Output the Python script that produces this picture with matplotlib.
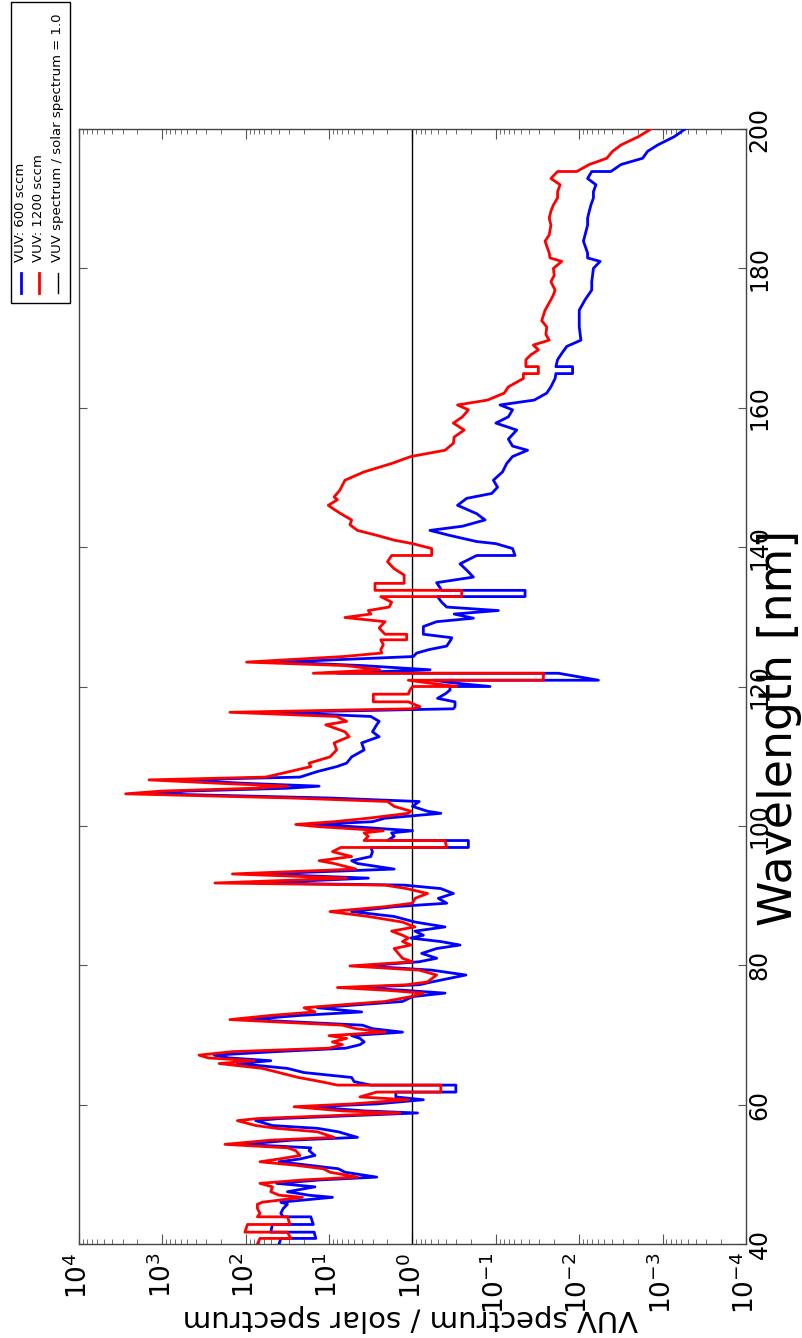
import numpy as np
import matplotlib
matplotlib.use("Agg")
import matplotlib.pyplot as plt
from matplotlib.patches import Rectangle
from matplotlib.lines import Line2D
from matplotlib.ticker import LogLocator, MultipleLocator, NullFormatter, FixedLocator

# ---------------- data (wavelength in nm, log10 of VUV/solar ratio) ----------------
wl_600 = [40.0, 40.8, 40.8, 41.7, 41.7, 42.8, 42.8, 43.9, 43.9, 44.4, 45.1, 45.7, 46.0, 46.7, 47.0, 47.5,
          48.2, 48.7, 49.2, 49.6, 50.3, 50.8, 51.3, 51.8, 52.2, 52.7, 53.4, 53.8, 54.3, 54.9, 55.3, 56.1,
          56.6, 57.0, 57.7, 58.0, 58.8, 59.1, 59.7, 60.1, 60.7, 61.1, 61.8, 61.8, 62.8, 62.8, 63.3, 63.9,
          64.6, 65.2, 65.9, 66.3, 66.7, 67.1, 67.6, 68.1, 68.6, 69.0, 69.5, 69.9, 70.4, 70.9, 71.4, 72.2,
          72.8, 73.3, 73.9, 74.8, 75.5, 76.0, 76.4, 76.8, 77.2, 77.6, 78.6, 79.3, 79.9, 80.5, 81.0, 81.7,
          82.4, 82.9, 83.4, 83.9, 84.3, 84.9, 85.5, 86.2, 87.0, 87.7, 88.4, 88.9, 89.6, 90.3, 91.0, 91.5,
          91.8, 92.5, 93.1, 93.8, 94.6, 95.0, 95.6, 96.3, 96.9, 96.9, 97.9, 97.9, 98.5, 99.0, 99.3, 99.9,
          100.2, 100.6, 101.1, 101.8, 102.1, 102.8, 103.5, 104.0, 104.6, 105.0, 105.4, 105.7, 106.1, 106.6,
          107.0, 107.8, 108.5, 109.0, 109.9, 110.9, 111.9, 112.8, 113.5, 114.5, 115.0, 115.7, 116.3, 116.8,
          117.1, 117.8, 118.3, 119.0, 119.5, 120.0, 120.0, 120.5, 120.9, 120.9, 121.9, 121.9, 122.4, 123.0,
          123.5, 124.3, 124.8, 125.3, 125.8, 126.7, 127.0, 127.5, 128.6, 129.3, 129.8, 130.4, 130.9, 131.4,
          132.1, 132.9, 132.9, 133.8, 133.8, 134.9, 135.7, 136.7, 137.6, 138.8, 138.8, 139.8, 140.5, 140.8,
          141.7, 142.4, 143.0, 143.9, 144.8, 146.0, 147.0, 147.7, 148.6, 149.6, 150.8, 152.0, 153.0, 153.9,
          154.5, 155.5, 156.8, 157.8, 158.7, 159.7, 160.4, 161.1, 162.1, 163.0, 164.2, 164.9, 164.9, 165.9,
          165.9, 166.9, 167.8, 168.8, 169.7, 171.6, 174.0, 175.5, 176.9, 178.1, 180.0, 181.0, 181.5, 182.2,
          183.9, 184.8, 186.2, 187.2, 188.2, 189.1, 190.1, 191.0, 192.0, 192.9, 193.9, 193.9, 194.9, 195.8,
          196.8, 197.7, 198.9, 200.0]
log_600 = [1.60, 1.58, 1.16, 1.18, 1.70, 1.68, 1.19, 1.22, 1.55, 1.58, 1.55, 1.50, 1.58, 0.96, 1.24, 1.50,
           1.17, 1.63, 1.10, 0.43, 0.81, 0.89, 1.24, 1.60, 1.35, 1.17, 1.24, 1.22, 2.04, 1.45, 0.66, 0.89,
           1.14, 1.68, 1.88, 1.60, -0.06, 0.58, 1.22, 0.43, -0.13, 0.20, 0.20, -0.52, -0.52, 0.50, 0.70, 0.73,
           1.30, 1.50, 2.10, 1.70, 2.20, 2.38, 1.65, 0.80, 0.63, 0.58, 0.63, 0.73, 0.12, 0.48, 0.60, 1.98,
           1.35, 0.61, 1.14, 0.12, 0.00, -0.39, 0.10, 0.68, -0.08, -0.23, -0.64, -0.23, 0.58, -0.08, -0.29, -0.11,
           -0.29, -0.57, -0.34, 0.02, -0.13, -0.03, -0.39, -0.03, 0.22, 0.73, 0.22, -0.41, -0.31, -0.49, -0.34, 0.10,
           1.88, 0.53, 1.83, 0.22, 0.66, 0.73, 0.50, 0.48, 0.50, -0.67, -0.67, 0.30, 0.22, 0.25, 0.00, 0.73,
           1.19, 0.48, 0.33, -0.34, -0.18, 0.00, -0.08, 1.00, 3.10, 2.70, 1.50, 1.12, 2.00, 2.80,
           1.35, 1.14, 0.91, 0.79, 0.73, 0.58, 0.61, 0.40, 0.48, 0.43, 0.40, 0.50, 1.65, -0.49,
           -0.51, -0.51, -0.30, -0.40, -0.45, -0.45, -0.93, -0.50, -0.25, -2.23, -1.75, 0.90, -0.21, 0.60,
           1.59, -0.01, -0.05, -0.20, -0.41, -0.46, -0.47, -0.13, -0.13, -0.29, -0.73, -0.50, -1.03, -0.41,
           -0.35, -0.30, -1.35, -1.35, -0.35, -0.29, -0.73, -0.65, -0.57, -0.77, -1.23, -1.20, -1.00, -0.77,
           -0.44, -0.21, -0.60, -0.87, -0.77, -0.54, -0.65, -0.95, -1.02, -0.97, -1.08, -1.13, -1.20, -1.38,
           -1.20, -1.15, -1.25, -1.00, -1.15, -1.20, -1.05, -1.46, -1.61, -1.66, -1.71, -1.72, -1.92, -1.92,
           -1.72, -1.74, -1.79, -1.85, -2.02, -2.00, -2.00, -2.07, -2.15, -2.15, -2.17, -2.25, -2.10, -2.10,
           -2.05, -2.07, -2.10, -2.10, -2.12, -2.14, -2.17, -2.17, -2.20, -2.10, -2.15, -2.38, -2.50, -2.76,
           -2.82, -2.94, -3.14, -3.27]

wl_1200 = [40.0, 40.8, 40.8, 41.7, 41.7, 42.8, 42.8, 43.9, 43.9, 44.4, 45.1, 45.7, 46.0, 46.7, 47.0, 47.5,
           48.2, 48.7, 49.2, 49.6, 50.3, 50.8, 51.3, 51.8, 52.2, 52.7, 53.4, 53.8, 54.3, 54.9, 55.3, 56.1,
           56.6, 57.0, 57.7, 58.0, 58.8, 59.1, 59.7, 60.1, 60.7, 61.1, 61.8, 61.8, 62.8, 62.8, 63.3, 63.9,
           64.6, 65.2, 65.9, 66.3, 66.7, 67.1, 67.6, 68.1, 68.6, 69.0, 69.5, 69.9, 70.4, 70.9, 71.4, 72.2,
           72.8, 73.3, 73.9, 74.8, 75.5, 76.0, 76.4, 76.8, 77.2, 77.6, 78.6, 79.3, 79.9, 80.5, 81.0, 81.7,
           82.4, 82.9, 83.4, 83.9, 84.3, 84.9, 85.5, 86.2, 87.0, 87.7, 88.4, 88.9, 89.6, 90.3, 91.0, 91.5,
           91.8, 92.5, 93.1, 93.8, 94.6, 95.0, 95.6, 96.3, 96.9, 96.9, 97.9, 97.9, 98.5, 99.0, 99.3, 99.9,
           100.2, 100.6, 101.1, 101.8, 102.1, 102.8, 103.5, 104.0, 104.6, 105.0, 105.4, 105.7, 106.1, 106.6,
           107.0, 107.8, 108.5, 109.0, 109.9, 110.9, 111.9, 112.8, 113.5, 114.5, 115.0, 115.7, 116.3, 116.8,
           117.1, 117.8, 117.8, 118.9, 118.9, 119.5, 120.0, 120.0, 120.5, 120.9, 120.9, 121.9, 121.9, 122.4,
           123.0, 123.5, 124.3, 124.8, 125.3, 126.0, 126.7, 126.7, 127.5, 127.5, 128.4, 129.3, 129.9, 130.4,
           130.9, 131.4, 132.1, 132.9, 132.9, 133.8, 133.8, 134.8, 134.8, 135.5, 136.0, 136.9, 137.9, 138.8,
           138.8, 139.8, 140.5, 141.0, 141.7, 142.4, 143.2, 143.9, 144.8, 145.5, 146.0, 146.8, 147.2, 148.2,
           149.6, 150.8, 152.0, 153.0, 153.9, 154.9, 155.8, 156.8, 157.8, 158.7, 159.7, 160.4, 161.1, 162.1,
           163.0, 164.2, 164.9, 164.9, 165.9, 165.9, 166.9, 167.6, 168.3, 169.0, 169.7, 170.5, 171.6, 172.5,
           174.0, 175.5, 176.2, 176.9, 178.1, 179.0, 180.0, 181.0, 181.5, 182.2, 183.9, 184.8, 186.2, 187.2,
           188.2, 189.1, 190.1, 191.0, 192.0, 192.9, 193.9, 193.9, 194.9, 195.8, 196.8, 197.7, 198.9, 200.0]
log_1200 = [1.86, 1.83, 1.46, 1.50, 2.01, 1.98, 1.47, 1.50, 1.86, 1.83, 1.86, 1.86, 1.80, 1.32, 1.60, 1.70,
            1.68, 1.83, 1.30, 0.66, 0.99, 1.07, 1.40, 1.83, 1.60, 1.35, 1.40, 1.50, 2.25, 1.70, 0.94, 1.14,
            1.63, 1.88, 2.10, 1.86, 0.15, 0.84, 1.42, 0.73, 0.05, 0.63, 0.43, -0.34, -0.34, 0.90, 1.10, 1.37,
            1.60, 1.80, 2.32, 1.90, 2.45, 2.56, 2.16, 1.00, 0.84, 0.96, 0.79, 1.00, 0.33, 0.68, 0.84, 2.19,
            1.70, 1.17, 1.30, 0.33, 0.02, -0.13, 0.30, 0.90, 0.07, -0.18, -0.29, -0.08, 0.75, 0.00, 0.12, 0.17,
            0.22, 0.02, 0.12, 0.05, 0.12, 0.25, -0.03, 0.12, 0.53, 0.99, 0.33, 0.00, -0.03, -0.18, 0.07, 0.33,
            2.37, 0.79, 2.16, 0.68, 0.94, 1.12, 0.73, 0.96, 0.86, -0.41, -0.39, 0.58, 0.53, 0.58, 0.35, 1.14,
            1.40, 0.94, 0.53, 0.05, 0.02, 0.22, 0.30, 1.45, 3.44, 3.00, 1.90, 1.50, 2.30, 3.16,
            1.76, 1.47, 1.22, 1.24, 0.99, 0.91, 0.94, 0.76, 0.81, 1.04, 0.79, 0.91, 2.19, 0.02,
            -0.09, 0.05, 0.47, 0.47, 0.05, 0.03, 0.00, -0.53, -0.20, 0.05, -1.57, -1.57, 1.19, 0.39,
            0.80, 1.99, 0.83, 0.37, 0.38, 0.35, 0.38, 0.07, 0.07, 0.33, 0.40, 0.33, 0.81, 0.50,
            0.53, 0.28, 0.25, 0.38, -0.59, -0.59, 0.45, 0.45, 0.10, 0.10, 0.10, 0.22, 0.30, 0.25,
            -0.23, -0.23, 0.00, 0.22, 0.43, 0.66, 0.75, 0.73, 0.86, 0.95, 1.01, 0.90, 0.94, 0.87,
            0.81, 0.58, 0.25, 0.02, -0.39, -0.49, -0.50, -0.62, -0.49, -0.60, -0.67, -0.54, -0.90, -1.10,
            -1.15, -1.33, -1.33, -1.51, -1.51, -1.36, -1.36, -1.42, -1.51, -1.45, -1.64, -1.60, -1.61, -1.55,
            -1.59, -1.66, -1.69, -1.71, -1.66, -1.70, -1.69, -1.79, -1.65, -1.64, -1.59, -1.64, -1.66, -1.64,
            -1.66, -1.69, -1.74, -1.74, -1.77, -1.66, -1.74, -1.97, -2.12, -2.33, -2.40, -2.50, -2.71, -2.86]

ratio_one = 1.0
ratio_ticks = [1e4, 1e3, 1e2, 1e1, 1e0, 1e-1, 1e-2, 1e-3, 1e-4]
wl_ticks = [40, 60, 80, 100, 120, 140, 160, 180, 200]
legend_labels = ["VUV: 600 sccm", "VUV: 1200 sccm", "VUV spectrum / solar spectrum = 1.0"]
x_label = "VUV spectrum / solar spectrum"
y_label = "Wavelength [nm]"

# ---------------- figure ----------------
W, H = 803, 1338
fig = plt.figure(figsize=(W / 100, H / 100), dpi=100)


def fx(px):
    return px / W


def fy(py):
    return 1 - py / H


ax = fig.add_axes([fx(79), fy(1244), 667 / W, 1115 / H])
ax.set_xscale("log")
ax.plot(10 ** np.array(log_600), wl_600, color="#0000ff", lw=2.0, zorder=3)
ax.plot(10 ** np.array(log_1200), wl_1200, color="#ff0000", lw=2.0, zorder=4)
ax.axvline(ratio_one, color="black", lw=1.0, zorder=2)
ax.set_xlim(1e4, 1e-4)
ax.set_ylim(40, 200)

ax.xaxis.set_major_locator(FixedLocator(ratio_ticks))
ax.xaxis.set_minor_locator(LogLocator(base=10, subs=np.arange(2, 10), numticks=20))
ax.xaxis.set_minor_formatter(NullFormatter())
ax.yaxis.set_major_locator(FixedLocator(wl_ticks))

for sp in ax.spines.values():
    sp.set_color("#444444")
    sp.set_linewidth(1.0)

ax.tick_params(axis="both", which="both", direction="in", top=True, right=True,
               bottom=True, left=True, color="#555555")
ax.tick_params(axis="x", which="major", length=7, labelsize=19, labelrotation=90, pad=6)
ax.tick_params(axis="x", which="minor", length=3.5)
ax.tick_params(axis="y", which="major", length=6, labelleft=False, labelright=True,
               labelsize=17, labelrotation=90, pad=1)
for lbl in ax.get_yticklabels():
    lbl.set_verticalalignment("center")

fig.text(fx(410), fy(1318), x_label, rotation=180, ha="center", va="center", fontsize=21)
fig.text(fx(802), fy(728), y_label, rotation=90, ha="right", va="center", fontsize=33)

# ---------------- legend (rotated, drawn manually) ----------------
fig.add_artist(Rectangle((fx(11), fy(303)), (70 - 11) / W, (303 - 2) / H,
                         transform=fig.transFigure, fill=False, edgecolor="black", lw=1.0))
handle_x = [21, 39, 58]
handle_col = ["#0000ff", "#ff0000", "black"]
handle_lw = [2.0, 2.0, 1.0]
for hx, col, hlw, lab in zip(handle_x, handle_col, handle_lw, legend_labels):
    fig.add_artist(Line2D([fx(hx), fx(hx)], [fy(293), fy(273)], transform=fig.transFigure,
                          color=col, lw=hlw))
    fig.text(fx(hx), fy(262), lab, rotation=90, ha="center", va="bottom", fontsize=9.5)

fig.savefig("out.png", dpi=100)
